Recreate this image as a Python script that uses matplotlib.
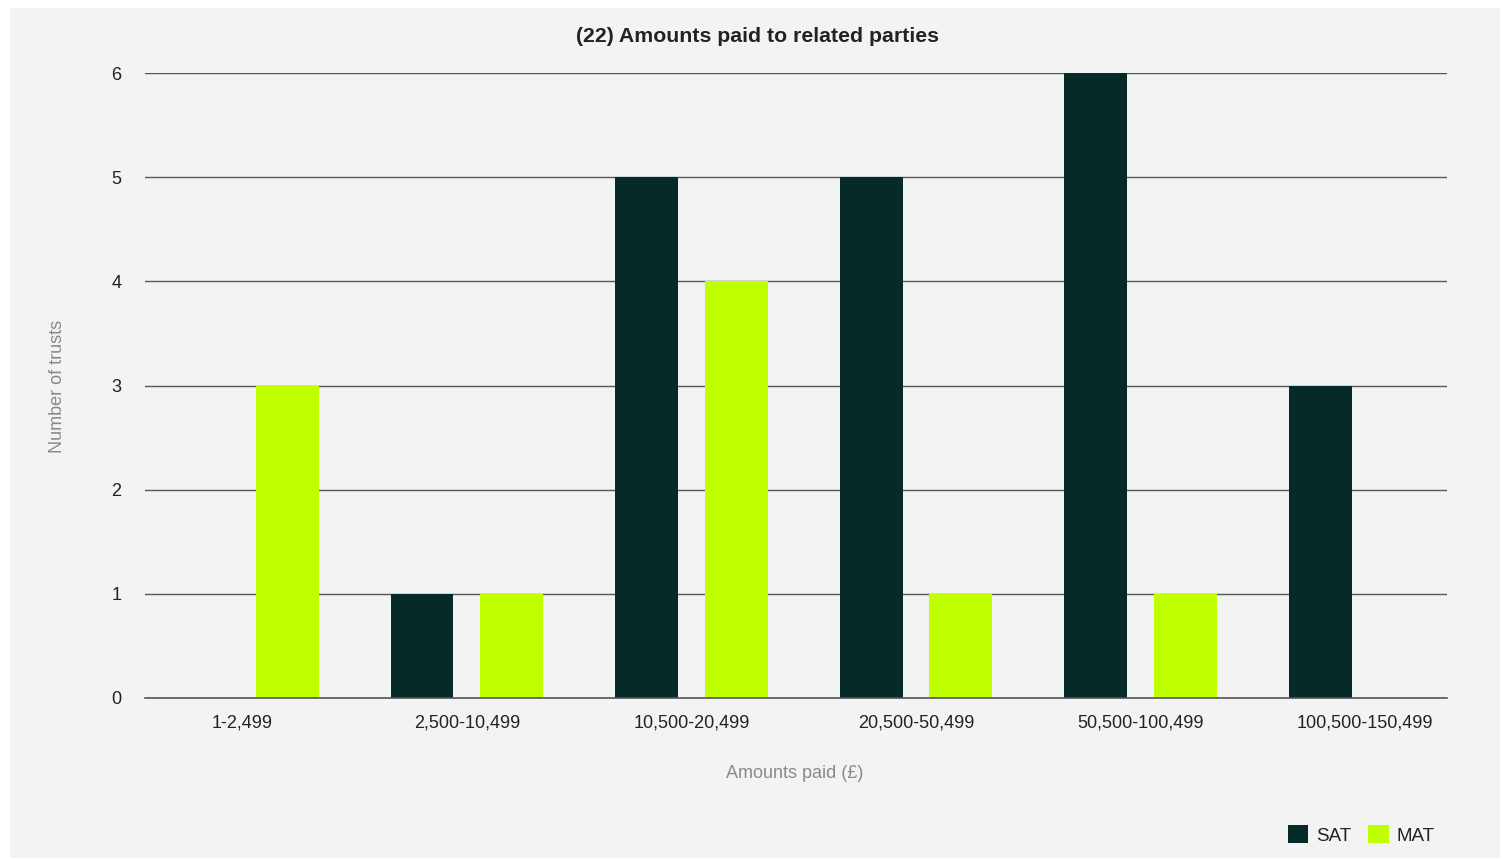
import numpy as np
import matplotlib.pyplot as plt
from matplotlib.patches import Rectangle

plt.rcParams['font.family'] = ['Liberation Sans', 'DejaVu Sans']

categories = ['1-2,499', '2,500-10,499', '10,500-20,499', '20,500-50,499',
              '50,500-100,499', '100,500-150,499']
sat = [0, 1, 5, 5, 6, 3]
mat = [3, 1, 4, 1, 1, 0]
y_ticks = [0, 1, 2, 3, 4, 5, 6]

SAT_COLOR = '#062a28'
MAT_COLOR = '#bfff00'
BG = '#f3f3f3'

W, H = 1503, 859
fig = plt.figure(figsize=(W / 100, H / 100), dpi=100)
fig.patch.set_facecolor('white')
# grey panel behind the chart
fig.patches.append(Rectangle((10 / W, 1 - 858 / H), 1490 / W, 850 / H,
                             transform=fig.transFigure, facecolor=BG,
                             edgecolor='none', zorder=-10))

ax = fig.add_axes([145 / W, 1 - 698 / H, (1447 - 145) / W, (698 - 73) / H])
ax.set_zorder(1)
ax.set_facecolor(BG)

x = np.arange(len(categories))
width = 0.28
offset = 0.2
sat_plot = [v if v > 0 else np.nan for v in sat]
mat_plot = [v if v > 0 else np.nan for v in mat]
ax.bar(x - offset, sat_plot, width, color=SAT_COLOR, label='SAT', zorder=3)
ax.bar(x + offset, mat_plot, width, color=MAT_COLOR, label='MAT', zorder=3)

ax.set_xlim(-0.434, 5.365)
ax.set_ylim(0, 6)
ax.set_yticks(y_ticks)
ax.yaxis.grid(True, color='#555555', linewidth=1.0, zorder=1)
ax.set_axisbelow(True)
# baseline
ax.axhline(0, color='#555555', linewidth=1.2, zorder=4, clip_on=False)
for s in ax.spines.values():
    s.set_visible(False)
ax.tick_params(axis='both', length=0, labelsize=13, colors='#222222')
ax.tick_params(axis='y', pad=17)
ax.tick_params(axis='x', pad=12)
ax.set_xticks(x)
ax.set_xticklabels(categories)

fig.text(757 / W, 1 - 37 / H, '(22) Amounts paid to related parties',
         ha='center', va='center', fontsize=15.3, fontweight='bold', color='#222222')
fig.text(58 / W, 1 - 386 / H, 'Number of trusts', rotation=90,
         ha='center', va='center', fontsize=13, color='#8a8a8a')
fig.text(795 / W, 1 - 773 / H, 'Amounts paid (\u00a3)',
         ha='center', va='center', fontsize=13, color='#8a8a8a')

leg = fig.legend(loc='center right', bbox_to_anchor=(1434 / W, 1 - 835 / H),
                 ncol=2, frameon=False, fontsize=13.5, handlelength=1.1,
                 handleheight=1.1, handletextpad=0.4, columnspacing=0.9,
                 borderaxespad=0, borderpad=0)
for t in leg.get_texts():
    t.set_color('#222222')

fig.savefig('out.png', dpi=100, facecolor='white')
